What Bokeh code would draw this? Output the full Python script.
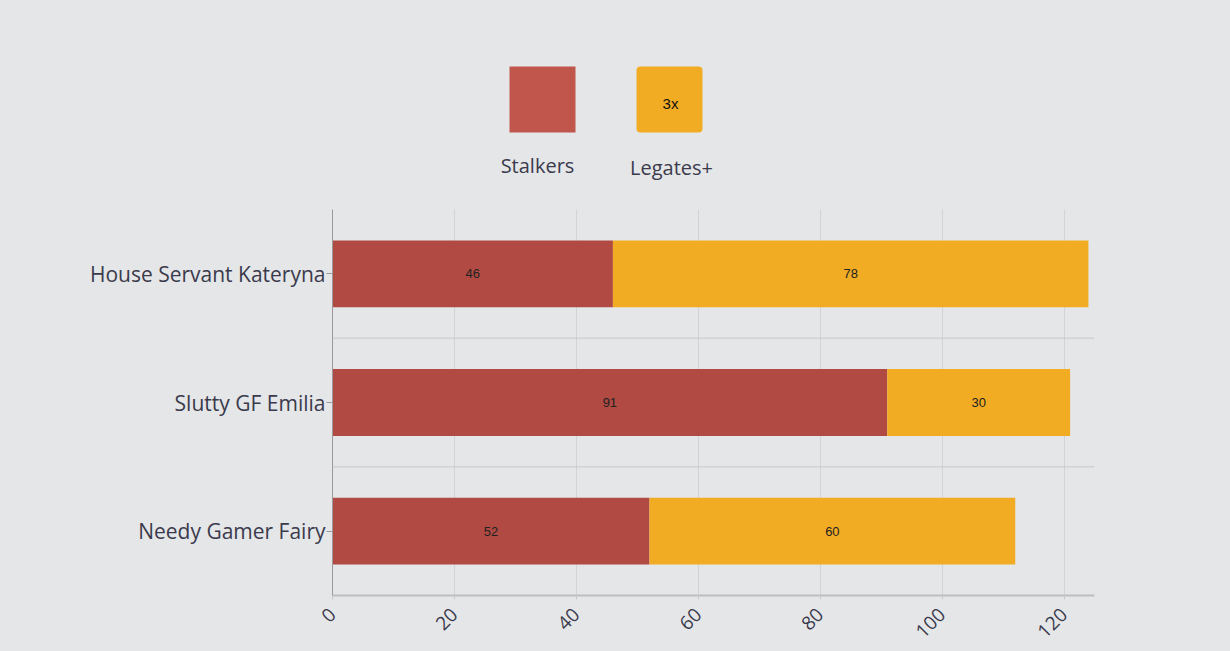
from bokeh.plotting import figure
from bokeh.models import ColumnDataSource, Range1d, FactorRange, Span, LabelSet, FixedTicker
from bokeh.layouts import column
from bokeh.embed import file_html
from bokeh.resources import INLINE
from bokeh.core.properties import value
import math

categories = ["Needy Gamer Fairy", "Slutty GF Emilia", "House Servant Kateryna"]
stalkers = [52, 91, 46]
legates = [60, 30, 78]
series_names = ["Stalkers", "Legates+"]
x_ticks = [0, 20, 40, 60, 80, 100, 120]

BG = "#e5e6e8"
RED = "#b04a43"
ORANGE = "#f2ac24"
TXT = "#3a3a4c"

W = 1230
LEFT, RIGHT = 332, 136
TOP_H = 209

# ---------- legend figure (frame aligned with chart; coordinates in page px) ----------
lg = figure(width=W, height=TOP_H, x_range=Range1d(LEFT, W - RIGHT), y_range=Range1d(TOP_H, 0),
            output_backend="svg", toolbar_location=None,
            min_border_left=LEFT, min_border_right=RIGHT, min_border_top=0, min_border_bottom=0)
lg.axis.visible = False
lg.grid.visible = False
lg.outline_line_color = None
lg.background_fill_color = BG
lg.border_fill_color = BG
lg.quad(left=[509], right=[575], top=[66], bottom=[132], fill_color="#c1574c", line_color=None)
lg.quad(left=[636], right=[702], top=[66], bottom=[132], fill_color=ORANGE, line_color=None,
        border_radius=4)
lg.text(x=[670], y=[103], text=["3x"], text_align="center", text_baseline="middle",
        text_font=value("Liberation Sans"), text_font_size="15px", text_color="#111111")
lg.text(x=[537, 671], y=[165, 167], text=series_names, text_align="center", text_baseline="middle",
        text_font=value("Open Sans"), text_font_size="20px", text_color=TXT)

# ---------- main chart ----------
p = figure(width=W, height=651 - TOP_H, y_range=FactorRange(*categories), x_range=Range1d(0, 125),
           output_backend="svg", toolbar_location=None,
           min_border_left=LEFT, min_border_right=RIGHT, min_border_top=0, min_border_bottom=56)
p.background_fill_color = BG
p.border_fill_color = BG
p.outline_line_color = None

src = ColumnDataSource(dict(
    cat=categories, s=stalkers, zero=[0] * 3,
    end=[a + b for a, b in zip(stalkers, legates)],
    s_mid=[v / 2 for v in stalkers], l_mid=[a + b / 2 for a, b in zip(stalkers, legates)],
    s_txt=[str(v) for v in stalkers], l_txt=[str(v) for v in legates]))

p.hbar(y="cat", left="zero", right="s", height=0.52, source=src, fill_color=RED, line_color=None)
p.hbar(y="cat", left="s", right="end", height=0.52, source=src, fill_color=ORANGE, line_color=None)

for lbl_x, lbl_t in (("s_mid", "s_txt"), ("l_mid", "l_txt")):
    p.add_layout(LabelSet(x=lbl_x, y="cat", text=lbl_t, source=src, text_align="center",
                          text_baseline="middle", text_font=value("Liberation Sans"),
                          text_font_size="13px", text_color="#222222"))

p.ygrid.visible = False
for loc in (1, 2):
    p.add_layout(Span(location=loc, dimension="width", line_color="#c8c8ca", line_width=1))

p.xgrid.ticker = FixedTicker(ticks=x_ticks)
p.xgrid.grid_line_color = "#d2d3d5"
p.xaxis.ticker = FixedTicker(ticks=x_ticks)
p.xaxis.major_label_orientation = math.pi / 4
p.xaxis.axis_line_color = "#bdbdbf"
p.xaxis.axis_line_width = 2
p.xaxis.major_tick_in = 0
p.xaxis.major_tick_out = 4
p.xaxis.major_tick_line_color = "#c8c8c8"
p.xaxis.minor_tick_line_color = None
p.xaxis.major_label_text_font = "Open Sans"
p.xaxis.major_label_text_font_size = "19px"
p.xaxis.major_label_text_color = TXT
p.xaxis.major_label_standoff = 12

p.yaxis.axis_line_color = "#9a9a9c"
p.yaxis.major_tick_in = 0
p.yaxis.major_tick_out = 6
p.yaxis.major_tick_line_color = "#9a9a9c"
p.yaxis.major_label_text_font = "Open Sans"
p.yaxis.major_label_text_font_size = "21px"
p.yaxis.major_label_text_color = TXT
p.yaxis.major_label_standoff = 1

layout = column(lg, p, spacing=0, styles={"background-color": BG})
html = file_html(layout, INLINE)
html = html.replace("<body>", '<body style="background-color:%s">' % BG)
open("out.html", "w").write(html)
